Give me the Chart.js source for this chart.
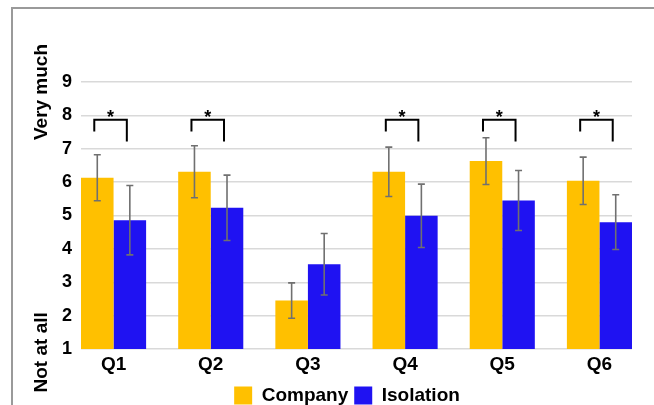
<!DOCTYPE html>
<html>
<head>
<meta charset="utf-8">
<script src="https://cdn.jsdelivr.net/npm/chart.js@4/dist/chart.umd.min.js"></script>
<style>
  html, body { margin: 0; padding: 0; background: #fff; }
  #wrap { width: 654px; height: 405px; position: relative; }
</style>
</head>
<body>
<div id="wrap"><canvas id="chart"></canvas></div>
<script>
// Survey questions and mean ratings (1 = not at all, 9 = very much)
const categories = ['Q1', 'Q2', 'Q3', 'Q4', 'Q5', 'Q6'];
const company = [6.13, 6.31, 2.45, 6.31, 6.63, 6.04];
const isolation = [4.86, 5.23, 3.54, 4.99, 5.45, 4.80];
const companyErr = [0.69, 0.78, 0.53, 0.74, 0.70, 0.71];
const isolationErr = [1.04, 0.98, 0.92, 0.95, 0.90, 0.82];
const significant = [true, true, false, true, true, true];
const yTicks = [1, 2, 3, 4, 5, 6, 7, 8, 9];
const yTitleTop = 'Very much';
const yTitleBottom = 'Not at all';

// Bracket levels (in rating units) for the significance markers
const bracketTop = 7.87;
const bracketLeftEnd = 7.52;
const bracketRightEnd = 7.22;

const CAT_PCT = 0.67;
const FONT = 'Liberation Sans, Arial, sans-serif';

const frame = {
  id: 'frame',
  beforeDraw(chart) {
    const ctx = chart.ctx;
    ctx.save();
    ctx.strokeStyle = '#9a9a9a';
    ctx.lineWidth = 2;
    ctx.beginPath();
    ctx.moveTo(12, chart.height);
    ctx.lineTo(12, 8);
    ctx.lineTo(chart.width, 8);
    ctx.stroke();
    ctx.restore();
  }
};

const errorBars = {
  id: 'errorBars',
  afterDatasetsDraw(chart) {
    const ctx = chart.ctx;
    const y = chart.scales.y;
    const errs = [companyErr, isolationErr];
    ctx.save();
    ctx.strokeStyle = '#707070';
    ctx.lineWidth = 1.6;
    chart.data.datasets.forEach((ds, di) => {
      chart.getDatasetMeta(di).data.forEach((bar, i) => {
        const v = ds.data[i].y;
        const e = errs[di][i];
        const yt = y.getPixelForValue(v + e);
        const yb = y.getPixelForValue(v - e);
        const x = bar.x;
        ctx.beginPath();
        ctx.moveTo(x, yt); ctx.lineTo(x, yb);
        ctx.moveTo(x - 3.5, yt); ctx.lineTo(x + 3.5, yt);
        ctx.moveTo(x - 3.5, yb); ctx.lineTo(x + 3.5, yb);
        ctx.stroke();
      });
    });
    ctx.restore();
  }
};

const brackets = {
  id: 'brackets',
  afterDatasetsDraw(chart) {
    const ctx = chart.ctx;
    const y = chart.scales.y;
    const a = chart.getDatasetMeta(0).data;
    const b = chart.getDatasetMeta(1).data;
    ctx.save();
    ctx.strokeStyle = '#000';
    ctx.lineWidth = 2;
    ctx.fillStyle = '#000';
    ctx.font = 'bold 18px ' + FONT;
    ctx.textAlign = 'center';
    ctx.textBaseline = 'alphabetic';
    significant.forEach((sig, i) => {
      if (!sig) return;
      const x1 = a[i].x - 3;
      const x2 = b[i].x - 3;
      const top = y.getPixelForValue(bracketTop);
      ctx.beginPath();
      ctx.moveTo(x1, y.getPixelForValue(bracketLeftEnd));
      ctx.lineTo(x1, top);
      ctx.lineTo(x2, top);
      ctx.lineTo(x2, y.getPixelForValue(bracketRightEnd));
      ctx.stroke();
      ctx.fillText('*', (x1 + x2) / 2, top + 3);
    });
    ctx.restore();
  }
};

const yTitles = {
  id: 'yTitles',
  afterDraw(chart) {
    const ctx = chart.ctx;
    const y = chart.scales.y;
    ctx.save();
    ctx.fillStyle = '#000';
    ctx.font = 'bold 19px ' + FONT;
    ctx.textAlign = 'center';
    ctx.textBaseline = 'middle';
    const draw = (text, cy) => {
      ctx.save();
      ctx.translate(42, cy);
      ctx.rotate(-Math.PI / 2);
      ctx.fillText(text, 0, 0);
      ctx.restore();
    };
    draw(yTitleTop, y.getPixelForValue(8.7));
    draw(yTitleBottom, y.getPixelForValue(0.9));
    ctx.restore();
  }
};

new Chart(document.getElementById('chart'), {
  type: 'bar',
  data: {
    datasets: [
      {
        label: 'Company',
        data: company.map((v, i) => ({ x: i, y: v })),
        backgroundColor: '#FFC000'
      },
      {
        label: 'Isolation',
        data: isolation.map((v, i) => ({ x: i, y: v })),
        backgroundColor: '#1F12F2'
      }
    ]
  },
  options: {
    responsive: true,
    maintainAspectRatio: false,
    animation: false,
    layout: { padding: { left: 62, top: 82, right: 22, bottom: -10 } },
    datasets: { bar: { categoryPercentage: CAT_PCT, barPercentage: 1 } },
    scales: {
      x: {
        type: 'linear',
        offset: false,
        min: -CAT_PCT / 2,
        max: categories.length - 1 + CAT_PCT / 2,
        grid: { display: false },
        border: { display: false },
        afterBuildTicks(scale) {
          scale.ticks = categories.map((c, i) => ({ value: i }));
        },
        afterFit(scale) { scale.height = 31; },
        ticks: {
          color: '#000',
          font: { family: FONT, size: 19, weight: 'bold' },
          padding: -4,
          maxRotation: 0,
          autoSkip: false,
          callback: (v) => categories[v]
        }
      },
      y: {
        min: 1,
        max: 9,
        afterBuildTicks(scale) {
          scale.ticks = yTicks.map(v => ({ value: v }));
        },
        afterFit(scale) { scale.width = 19; },
        grid: { color: '#d9d9d9', lineWidth: 1.5, drawTicks: false },
        border: { display: false },
        ticks: {
          color: '#000',
          font: { family: FONT, size: 18, weight: 'bold' },
          padding: 9
        }
      }
    },
    plugins: {
      tooltip: { enabled: false },
      legend: {
        position: 'bottom',
        labels: {
          color: '#000',
          font: { family: FONT, size: 19, weight: 'bold' },
          boxWidth: 18,
          boxHeight: 18,
          padding: 6
        }
      }
    }
  },
  plugins: [frame, errorBars, brackets, yTitles]
});
</script>
</body>
</html>
